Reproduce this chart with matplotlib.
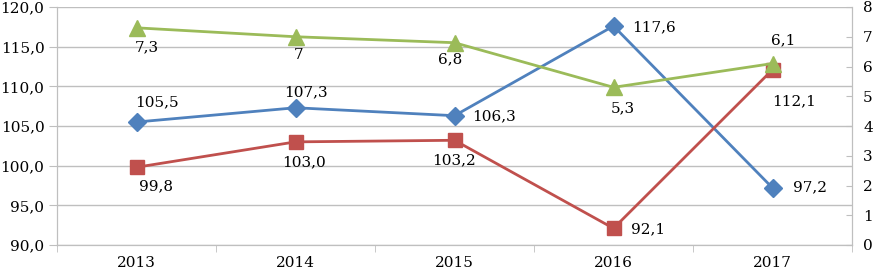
import numpy as np
import matplotlib.pyplot as plt
from matplotlib.ticker import FuncFormatter, MultipleLocator

plt.rcParams['font.family'] = ['DejaVu Serif']

# --- Data ---
years = ['2013', '2014', '2015', '2016', '2017']
blue_vals = [105.5, 107.3, 106.3, 117.6, 97.2]   # left axis
red_vals = [99.8, 103.0, 103.2, 92.1, 112.1]     # left axis
green_vals = [7.3, 7.0, 6.8, 5.3, 6.1]           # right axis
green_text = ['7,3', '7', '6,8', '5,3', '6,1']

# label offsets in pixels (dx, dy)
blue_off = [(20, 20), (10, 15), (40, -1), (40, -1), (38, 1)]
red_off = [(20, -19), (9, -20), (-1, -20), (35, -1), (22, -32)]
green_off = [(10, -19), (3, -18), (-4, -17), (9, -21), (11, 23)]

c_blue = '#4F81BD'
c_red = '#C0504D'
c_green = '#9BBB59'
c_grid = '#BFBFBF'

def comma(v, pos=None):
    return f'{v:.1f}'.replace('.', ',')

fs = 11

fig = plt.figure(figsize=(8.79, 2.72), dpi=100)
ax = fig.add_axes([57 / 879, 27 / 272, 795 / 879, 238 / 272])
ax2 = ax.twinx()

x = np.arange(len(years))

ax.plot(x, blue_vals, color=c_blue, lw=2, marker='D', ms=9, zorder=3)
ax.plot(x, red_vals, color=c_red, lw=2, marker='s', ms=10, zorder=3)
ax2.plot(x, green_vals, color=c_green, lw=2, marker='^', ms=11, zorder=3)

for i in range(len(years)):
    ax.annotate(comma(blue_vals[i]), (x[i], blue_vals[i]), xytext=blue_off[i],
                textcoords='offset pixels', ha='center', va='center', fontsize=fs)
    ax.annotate(comma(red_vals[i]), (x[i], red_vals[i]), xytext=red_off[i],
                textcoords='offset pixels', ha='center', va='center', fontsize=fs)
    ax2.annotate(green_text[i], (x[i], green_vals[i]), xytext=green_off[i],
                 textcoords='offset pixels', ha='center', va='center', fontsize=fs)

# left axis
ax.set_xlim(-0.5, 4.5)
ax.set_ylim(90, 120)
ax.yaxis.set_major_locator(MultipleLocator(5))
ax.yaxis.set_major_formatter(FuncFormatter(comma))
ax.grid(axis='y', color=c_grid, lw=1)
ax.set_axisbelow(True)
ax.set_xticks(x)
ax.set_xticklabels(years)
ax.set_xticks(np.arange(-0.5, 5, 1), minor=True)
ax.tick_params(axis='x', which='major', length=0, pad=8, labelsize=fs)
ax.tick_params(axis='x', which='minor', length=5, color=c_grid)
ax.tick_params(axis='y', length=6, color=c_grid, labelsize=fs, pad=3)

# right axis
ax2.set_ylim(0, 8)
ax2.yaxis.set_major_locator(MultipleLocator(1))
ax2.tick_params(axis='y', direction='in', length=4, color=c_grid, labelsize=fs, pad=8)

for a in (ax, ax2):
    a.spines['top'].set_visible(False)
    for s in ('left', 'right', 'bottom'):
        a.spines[s].set_color(c_grid)

fig.savefig('out.png', dpi=100)
